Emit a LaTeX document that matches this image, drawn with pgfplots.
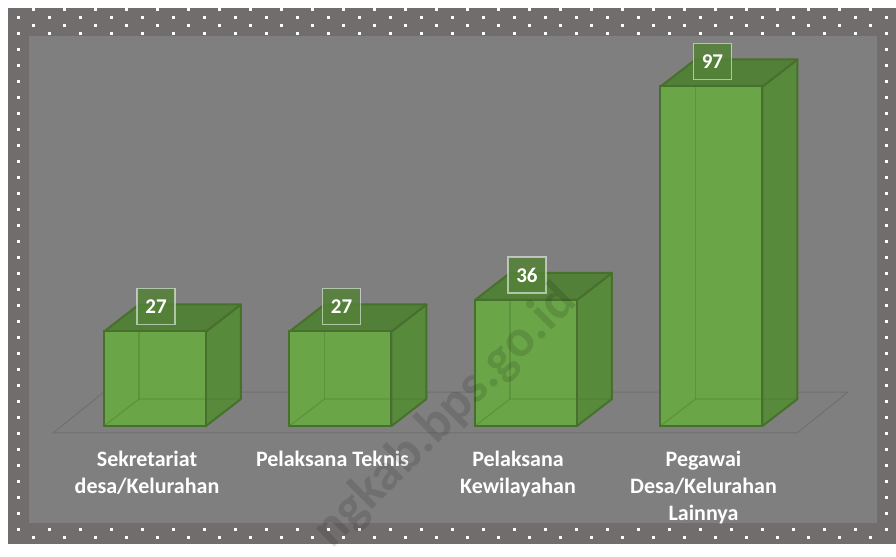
\documentclass[border=0pt]{standalone}
\usepackage{pgfplots}
\pgfplotsset{compat=1.18}
\usepackage{pgfplotstable}
\usepackage{fontspec}
\setmainfont{Carlito}
\definecolor{framec}{RGB}{113,109,108}
\definecolor{innerc}{RGB}{127,127,127}
\definecolor{frontc}{RGB}{106,166,72}
\definecolor{topc}{RGB}{82,128,56}
\definecolor{sidec}{RGB}{88,138,60}
\definecolor{edgec}{RGB}{72,112,45}
\definecolor{labelc}{RGB}{84,130,56}
\definecolor{floorc}{RGB}{112,112,112}

\pgfplotsset{
  sidestyle/.style={fill=sidec, draw=edgec, line width=1pt, line join=round, forget plot},
  topstyle/.style={fill=topc, draw=edgec, line width=1pt, line join=round, forget plot},
  hiddenstyle/.style={draw=edgec, draw opacity=0.35, line width=0.6pt, forget plot},
}

\pgfplotstableread{
x v
0 27
1 27
2 36
3 97
}\data

\begin{document}
\begin{tikzpicture}
\begin{scope}[x=0.5pt,y=-0.5pt]
\path[use as bounding box, fill=white] (0,0) rectangle (896,544);
\fill[framec] (8,8) rectangle (896,544);
\begin{scope}
\clip (8,8) rectangle (896,544);
\foreach \i in {0,...,56}{
  \foreach \j in {0,...,66}{
    \pgfmathtruncatemacro\pp{mod(\i+\j,2)}
    \ifnum\pp=1 \fill[white] ({16.5+15.5*\i},{8.5+8*\j}) rectangle ++(3,3); \fi
  }}
\end{scope}
\fill[innerc] (29,36) rectangle (877,523);
\end{scope}

\begin{axis}[
  at={(31.125pt,-213pt)}, anchor=south west,
  scale only axis, width=371pt, height=175pt,
  xmin=-0.5, xmax=3.5, ymin=0, ymax=100,
  clip=false,
  /pgf/number format/assume math mode=true,
  axis line style={draw=none},
  tick style={draw=none},
  major tick length=0pt,
  ytick=\empty,
  xtick={0,1,2,3},
  xticklabels={{Sekretariat\\desa/Kelurahan},{Pelaksana Teknis},{Pelaksana\\Kewilayahan},{Pegawai\\Desa/Kelurahan\\Lainnya}},
  xticklabel style={font=\bfseries\fontsize{11}{13.5}\selectfont, text=white, align=center, xshift=-4pt, yshift=-9.2pt},
]
% floor
\addplot[draw=floorc, line width=0.5pt, forget plot] coordinates {(-0.5499,-2) (3.461,-2) (3.736,9.71) (-0.275,9.71)} -- cycle;
% side and top faces
\pgfplotsinvokeforeach{0,1,2,3}{
  \pgfplotstablegetelem{#1}{v}\of\data
  \pgfmathsetmacro\yt{\pgfplotsretval}
  \pgfmathsetmacro\ytb{\pgfplotsretval+7.714}
  \pgfmathsetmacro\xl{#1-0.27493}
  \pgfmathsetmacro\xr{#1+0.27493}
  \pgfmathsetmacro\xlb{#1-0.27493+0.18868}
  \pgfmathsetmacro\xrb{#1+0.27493+0.18868}
  \edef\tmp{\noexpand\addplot[sidestyle] coordinates {(\xr,0) (\xrb,7.714) (\xrb,\ytb) (\xr,\yt)} -- cycle;
    \noexpand\addplot[topstyle] coordinates {(\xl,\yt) (\xr,\yt) (\xrb,\ytb) (\xlb,\ytb)} -- cycle;}
  \tmp
}
% front faces
\addplot[ybar, bar width=51pt, bar shift=0pt, fill=frontc, draw=edgec, line width=1pt,
  point meta=y, nodes near coords,
  every node near coord/.append style={font=\bfseries\fontsize{10.5}{12}\selectfont, text=white,
    fill=labelc, fill opacity=0.85, text opacity=1, draw=white, draw opacity=0.55, line width=0.6pt,
    minimum width=19pt, minimum height=18pt, inner sep=0pt, anchor=center, yshift=12.5pt, xshift=0.5pt}]
  table[x=x, y=v]{\data};
% hidden edges seen through the front faces
\pgfplotsinvokeforeach{0,1,2,3}{
  \pgfplotstablegetelem{#1}{v}\of\data
  \pgfmathsetmacro\yt{\pgfplotsretval}
  \pgfmathsetmacro\xl{#1-0.27493}
  \pgfmathsetmacro\xlb{#1-0.27493+0.18868}
  \pgfmathsetmacro\xrb{#1+0.27493+0.18868}
  \edef\tmp{\noexpand\addplot[hiddenstyle] coordinates {(\xl,0) (\xlb,7.714) (\xrb,7.714)};
    \noexpand\addplot[hiddenstyle] coordinates {(\xlb,7.714) (\xlb,\yt)};}
  \tmp
}
\end{axis}

\begin{scope}[x=0.5pt,y=-0.5pt]
\node[rotate=45, anchor=base west, inner sep=0pt, font=\bfseries\fontsize{26.5}{26.5}\selectfont, text=black, text opacity=0.12] at (332,550) {ngkab.bps.go.id};
\end{scope}
\end{tikzpicture}
\end{document}
